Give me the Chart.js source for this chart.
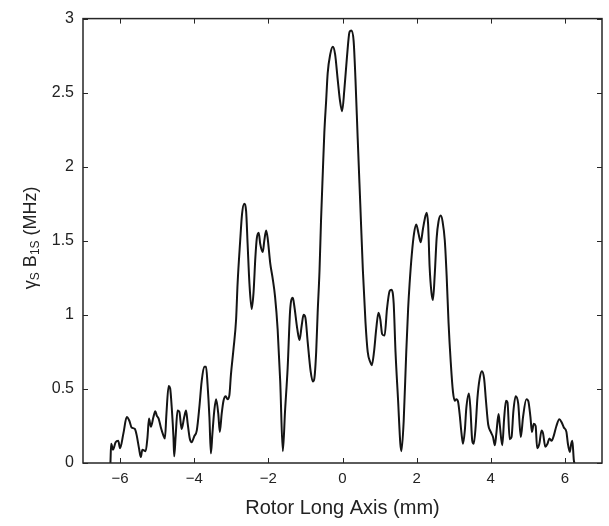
<!DOCTYPE html>
<html>
<head>
<meta charset="utf-8">
<script src="https://cdn.jsdelivr.net/npm/chart.js@4.4.0/dist/chart.umd.min.js"></script>
<style>
  html, body { margin: 0; padding: 0; background: #fff; }
  #wrap { width: 609px; height: 526px; position: relative; }
</style>
</head>
<body>
<div id="wrap"><canvas id="fieldChart"></canvas></div>
<script>
// rotor position along the long axis (mm)
const positions = [
    -6.26, -6.24, -6.19, -6.12, -6.05, -6.00, -5.91, -5.82, -5.75, -5.69,
    -5.60, -5.55, -5.49, -5.44, -5.40, -5.31, -5.26, -5.22, -5.17, -5.10,
    -5.05, -5.01, -4.96, -4.90, -4.83, -4.79, -4.75, -4.69, -4.65, -4.60,
    -4.56, -4.54, -4.50, -4.45, -4.40, -4.34, -4.27, -4.22, -4.18, -4.12,
    -4.07, -4.00, -3.93, -3.86, -3.80, -3.73, -3.68, -3.64, -3.59, -3.55,
    -3.51, -3.46, -3.41, -3.35, -3.31, -3.26, -3.21, -3.15, -3.10, -3.05,
    -3.01, -2.94, -2.87, -2.83, -2.76, -2.71, -2.65, -2.60, -2.56, -2.51,
    -2.45, -2.40, -2.35, -2.31, -2.26, -2.22, -2.15, -2.11, -2.06, -2.02,
    -1.95, -1.88, -1.82, -1.75, -1.68, -1.61, -1.55, -1.48, -1.41, -1.34,
    -1.30, -1.22, -1.16, -1.10, -1.05, -1.00, -0.94, -0.86, -0.80, -0.76,
    -0.71, -0.67, -0.62, -0.58, -0.53, -0.49, -0.44, -0.40, -0.33, -0.26,
    -0.20, -0.13, -0.07, -0.01, 0.05, 0.12, 0.19, 0.24, 0.30, 0.35,
    0.41, 0.48, 0.55, 0.62, 0.68, 0.75, 0.79, 0.85, 0.91, 0.97,
    1.02, 1.07, 1.135, 1.20, 1.27, 1.32, 1.38, 1.43, 1.50, 1.56,
    1.59, 1.65, 1.72, 1.77, 1.81, 1.87, 1.93, 1.99, 2.05, 2.11,
    2.17, 2.24, 2.27, 2.31, 2.35, 2.40, 2.44, 2.49, 2.54, 2.59,
    2.65, 2.70, 2.76, 2.81, 2.86, 2.92, 2.98, 3.03, 3.07, 3.12,
    3.16, 3.21, 3.25, 3.30, 3.34, 3.41, 3.45, 3.50, 3.54, 3.59,
    3.64, 3.70, 3.76, 3.82, 3.87, 3.93, 4.00, 4.06, 4.11, 4.15,
    4.21, 4.24, 4.31, 4.36, 4.41, 4.45, 4.51, 4.56, 4.61, 4.67,
    4.74, 4.81, 4.87, 4.96, 5.01, 5.07, 5.11, 5.16, 5.21, 5.25,
    5.31, 5.37, 5.41, 5.47, 5.53, 5.58, 5.64, 5.70, 5.77, 5.85,
    5.91, 5.97, 6.04, 6.08, 6.13, 6.17, 6.20, 6.24, 6.26
];

// gamma_S * B_1S (MHz)
const fieldMHz = [
    0.00, 0.13, 0.09, 0.14, 0.15, 0.10, 0.20, 0.31, 0.285, 0.24,
    0.23, 0.185, 0.10, 0.04, 0.09, 0.08, 0.175, 0.30, 0.245, 0.31,
    0.35, 0.32, 0.30, 0.24, 0.185, 0.165, 0.33, 0.52, 0.505, 0.35,
    0.175, 0.045, 0.185, 0.355, 0.345, 0.23, 0.31, 0.355, 0.275, 0.165,
    0.14, 0.18, 0.22, 0.38, 0.55, 0.65, 0.65, 0.53, 0.31, 0.065,
    0.195, 0.35, 0.43, 0.33, 0.21, 0.33, 0.42, 0.45, 0.43, 0.46,
    0.595, 0.77, 0.97, 1.21, 1.50, 1.68, 1.75, 1.70, 1.48, 1.21,
    1.04, 1.15, 1.39, 1.52, 1.555, 1.48, 1.425, 1.50, 1.57, 1.52,
    1.35, 1.24, 1.125, 0.905, 0.55, 0.08, 0.35, 0.64, 1.04, 1.115,
    1.06, 0.905, 0.83, 0.93, 1.00, 0.98, 0.82, 0.62, 0.55, 0.57,
    0.75, 1.015, 1.30, 1.63, 1.97, 2.23, 2.45, 2.63, 2.76, 2.81,
    2.76, 2.59, 2.45, 2.375, 2.52, 2.74, 2.91, 2.92, 2.85, 2.59,
    2.19, 1.745, 1.30, 0.95, 0.75, 0.68, 0.66, 0.75, 0.905, 1.015,
    0.97, 0.87, 0.86, 1.04, 1.16, 1.17, 1.08, 0.75, 0.42, 0.13,
    0.08, 0.28, 0.75, 1.04, 1.21, 1.41, 1.55, 1.61, 1.55, 1.49,
    1.58, 1.67, 1.69, 1.61, 1.325, 1.15, 1.10, 1.28, 1.52, 1.63,
    1.67, 1.63, 1.50, 1.26, 0.95, 0.68, 0.48, 0.42, 0.43, 0.41,
    0.33, 0.20, 0.13, 0.22, 0.37, 0.47, 0.37, 0.15, 0.13, 0.24,
    0.44, 0.57, 0.62, 0.57, 0.42, 0.26, 0.21, 0.175, 0.12, 0.20,
    0.33, 0.265, 0.12, 0.30, 0.42, 0.41, 0.16, 0.175, 0.35, 0.45,
    0.40, 0.175, 0.31, 0.43, 0.42, 0.31, 0.21, 0.265, 0.25, 0.10,
    0.13, 0.22, 0.20, 0.11, 0.13, 0.165, 0.15, 0.185, 0.25, 0.295,
    0.275, 0.24, 0.21, 0.13, 0.075, 0.13, 0.15, 0.02, 0.00
];

const xTicks = [-6, -4, -2, 0, 2, 4, 6];
const yTicks = [0, 0.5, 1, 1.5, 2, 2.5, 3];

const axisColor = "#262626";
const fontFamily = "Liberation Sans, Arial, sans-serif";

// MATLAB-style box with inward ticks plus the y title with subscripts
const frameAndTitle = {
    id: "frameAndTitle",
    afterDraw(chart) {
        const c = chart.ctx;
        const a = chart.chartArea;
        const xs = chart.scales.x;
        const ys = chart.scales.y;
        c.save();
        c.strokeStyle = axisColor;
        c.lineWidth = 1.5;
        c.strokeRect(a.left, a.top, a.right - a.left, a.bottom - a.top);
        c.lineWidth = 1;
        c.beginPath();
        xTicks.forEach(v => {
            const px = Math.round(xs.getPixelForValue(v)) + 0.5;
            c.moveTo(px, a.bottom); c.lineTo(px, a.bottom - 5);
            c.moveTo(px, a.top); c.lineTo(px, a.top + 5);
        });
        yTicks.forEach(v => {
            const py = Math.round(ys.getPixelForValue(v)) + 0.5;
            c.moveTo(a.left, py); c.lineTo(a.left + 5, py);
            c.moveTo(a.right, py); c.lineTo(a.right - 5, py);
        });
        c.stroke();

        // y axis title: γ_S B_1S (MHz)
        const big = "18px " + fontFamily;
        const small = "12px " + fontFamily;
        const parts = [
            ["γ", big, 0], ["S", small, 5], [" B", big, 0],
            ["1S", small, 5], [" (MHz)", big, 0]
        ];
        let total = 0;
        parts.forEach(p => { c.font = p[1]; total += c.measureText(p[0]).width; });
        c.translate(31, (a.top + a.bottom) / 2 - 3);
        c.rotate(-Math.PI / 2);
        c.fillStyle = "#222";
        c.textBaseline = "middle";
        let x = -total / 2;
        parts.forEach(p => {
            c.font = p[1];
            c.fillText(p[0], x, p[2]);
            x += c.measureText(p[0]).width;
        });
        c.restore();
    }
};

const points = positions.map((x, i) => ({ x: x, y: fieldMHz[i] }));

new Chart(document.getElementById("fieldChart").getContext("2d"), {
    type: "scatter",
    data: {
        datasets: [{
            data: points,
            showLine: true,
            borderColor: "#141414",
            borderWidth: 2,
            pointRadius: 0,
            tension: 0.3,
            cubicInterpolationMode: "monotone",
            fill: false
        }]
    },
    options: {
        responsive: true,
        maintainAspectRatio: false,
        animation: false,
        layout: { padding: { top: 11, right: 7, left: 0, bottom: 0 } },
        plugins: {
            legend: { display: false },
            tooltip: { enabled: false }
        },
        scales: {
            x: {
                type: "linear",
                min: -7,
                max: 7,
                afterBuildTicks: s => { s.ticks = xTicks.map(v => ({ value: v })); },
                afterFit: s => { s.height = 63; },
                grid: { display: false, drawTicks: false },
                border: { display: false },
                ticks: {
                    color: "#222",
                    font: { family: fontFamily, size: 15 },
                    padding: 7,
                    maxRotation: 0,
                    callback: v => String(v).replace("-", "\u2212")
                },
                title: {
                    display: true,
                    text: "Rotor Long Axis (mm)",
                    color: "#222",
                    font: { family: fontFamily, size: 20 },
                    padding: { top: 4, bottom: 6 }
                }
            },
            y: {
                min: 0,
                max: 3,
                afterBuildTicks: s => { s.ticks = yTicks.map(v => ({ value: v })); },
                afterFit: s => { s.width = 83; },
                grid: { display: false, drawTicks: false },
                border: { display: false },
                ticks: {
                    color: "#222",
                    font: { family: fontFamily, size: 16 },
                    padding: 9,
                    callback: v => String(v)
                }
            }
        }
    },
    plugins: [frameAndTitle]
});
</script>
</body>
</html>
